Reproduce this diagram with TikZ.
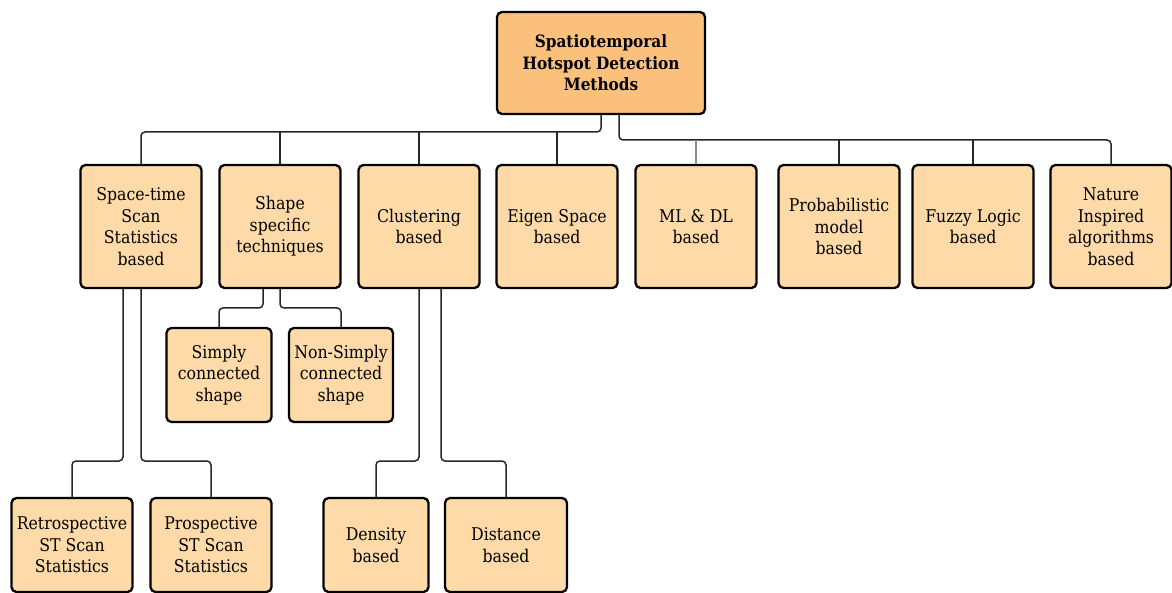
\documentclass[tikz,border=0pt]{standalone}
\usepackage{fontspec}
\setmainfont{DejaVu Serif Condensed}
\begin{document}
\begin{tikzpicture}[x=1pt,y=-1pt,
  box/.style={draw=black, line width=2.3pt, rounded corners=5pt, align=center,
    inner sep=0pt, font=\fontsize{17.5}{21.5}\selectfont},
  lvl/.style={box, fill=peach},
  rootbox/.style={box, fill=apricot, font=\fontsize{17}{21.5}\selectfont\bfseries},
  conn/.style={draw=black!85, line width=1.5pt, rounded corners=4pt},
]
\definecolor{peach}{HTML}{FDDAA8}
\definecolor{apricot}{HTML}{FBC07C}
\useasboundingbox (0,0) rectangle (1172,593);

% root
\node[rootbox, minimum width=208pt, minimum height=102pt] (root) at (601,63)
  {Spatiotemporal\\Hotspot Detection\\Methods};

% first level
\foreach \nm/\cx/\txt in {
  st/141/{Space-time\\Scan\\Statistics\\based},
  sh/280/{Shape\\specific\\techniques},
  cl/419/{Clustering\\based},
  ei/557/{Eigen Space\\based},
  ml/696/{ML \& DL\\based},
  pr/839/{Probabilistic\\model\\based},
  fu/973/{Fuzzy Logic\\based},
  na/1111/{Nature\\Inspired\\algorithms\\based}}
  \node[lvl, minimum width=121pt, minimum height=123pt] (\nm) at (\cx,226.5) {\txt};

% shape children
\node[lvl, minimum width=105pt, minimum height=94pt] (si) at (219,375) {Simply\\connected\\shape};
\node[lvl, minimum width=104pt, minimum height=94pt] (ns) at (341,375) {Non-Simply\\connected\\shape};

% bottom level
\node[lvl, minimum width=121pt, minimum height=94pt] (re) at (72,545) {Retrospective\\ST Scan\\Statistics};
\node[lvl, minimum width=121pt, minimum height=94pt] (ps) at (211,545) {Prospective\\ST Scan\\Statistics};
\node[lvl, minimum width=105pt, minimum height=94pt] (de) at (376,545) {Density\\based};
\node[lvl, minimum width=122pt, minimum height=94pt] (di) at (506,545) {Distance\\based};

% branch points
\coordinate (rootR) at ([xshift=18pt]root.south);
\coordinate (stL) at ([xshift=-18pt]st.south);
\coordinate (shL) at ([xshift=-17pt]sh.south);
\coordinate (clR) at ([xshift=22pt]cl.south);

% root to first level
\draw[conn] (root.south) -- (root.south |- 0,132) -| (st.north);
\foreach \nm in {sh,cl,ei}
  \draw[conn] (\nm.north) -- (\nm.north |- 0,132);
\draw[conn] (rootR) -- (rootR |- 0,140) -| (na.north);
\draw[conn, draw=black!45] (ml.north) -- (ml.north |- 0,140);
\foreach \nm in {pr,fu}
  \draw[conn] (\nm.north) -- (\nm.north |- 0,140);

% second level
\draw[conn] (stL) -- (stL |- 0,461) -| (re.north);
\draw[conn] (st.south) -- (st.south |- 0,461) -| (ps.north);
\draw[conn] (shL) -- (shL |- 0,308) -| (si.north);
\draw[conn] (sh.south) -- (sh.south |- 0,308) -| (ns.north);
\draw[conn] (cl.south) -- (cl.south |- 0,461) -| (de.north);
\draw[conn] (clR) -- (clR |- 0,461) -| (di.north);
\end{tikzpicture}
\end{document}
